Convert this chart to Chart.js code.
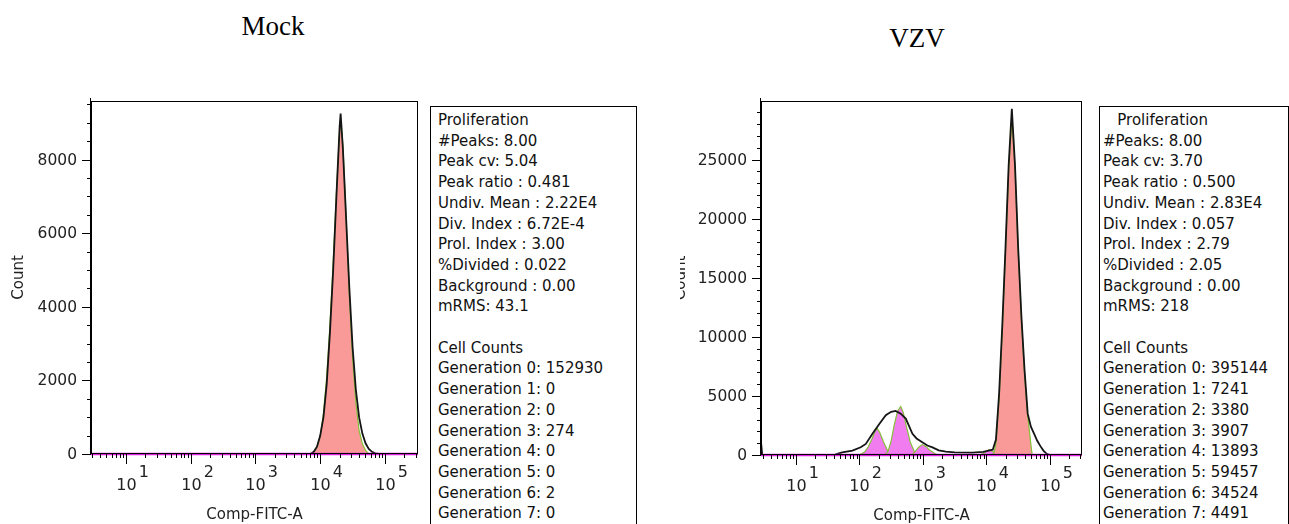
<!DOCTYPE html>
<html>
<head>
<meta charset="utf-8">
<script src="https://cdn.jsdelivr.net/npm/chart.js@4.4.1/dist/chart.umd.min.js"></script>
<style>
  body { margin: 0; background: #fff; width: 1289px; height: 524px; overflow: hidden; position: relative; }
  canvas { position: absolute; top: 0; }
  .title { position: absolute; font-family: "Liberation Serif", serif; font-size: 27px; line-height: 27px; color: #000; transform: translateX(-50%); white-space: nowrap; }
  .stats { position: absolute; top: 106px; height: 430px; border: 1px solid #000; background: #fff;
           font-family: "DejaVu Sans", sans-serif; font-size: 15px; line-height: 20.7px; color: #111;
           padding-top: 3px; white-space: pre; box-sizing: border-box; }
</style>
</head>
<body>
<div class="title" style="left:273px; top:13px;">Mock</div>
<div class="title" style="left:917px; top:25px;">VZV</div>
<canvas id="mock" width="430" height="524" style="left:0px"></canvas>
<canvas id="vzv" width="420" height="524" style="left:680px"></canvas>
<div class="stats" id="mockStats" style="left:430px; width:207px; padding-left:7px;"></div>
<div class="stats" id="vzvStats" style="left:1099px; width:190px; padding-left:3px;"></div>
<script>
// x values are log10(Comp-FITC-A), y values are event counts

// Mock: raw histogram (black)
const mockData = [
  [0.46, 0], [3.85, 0], [3.90, 60], [3.95, 200], [4.00, 500], [4.05, 1000], [4.10, 1900],
  [4.15, 3300], [4.20, 5000], [4.25, 7000], [4.30, 8900], [4.315, 9250], [4.35, 8300],
  [4.40, 6400], [4.45, 4500], [4.50, 2900], [4.55, 1750], [4.60, 1000], [4.65, 560],
  [4.70, 290], [4.75, 140], [4.80, 60], [4.85, 20], [4.90, 0], [5.51, 0]
];
// Mock: generation 0 model (red fill)
const mockGen0 = [
  [3.85, 0], [3.90, 50], [3.95, 180], [4.00, 480], [4.05, 1100], [4.10, 2100], [4.15, 3500],
  [4.20, 5200], [4.25, 7100], [4.30, 8800], [4.315, 9050], [4.35, 8400], [4.40, 6400],
  [4.45, 4300], [4.50, 2600], [4.55, 1400], [4.60, 650], [4.65, 280], [4.70, 100], [4.75, 0]
];

// VZV: raw histogram (black)
const vzvData = [
  [0.45, 1100], [0.47, 0], [1.60, 0], [1.65, 100], [1.73, 220], [1.89, 370], [2.02, 650],
  [2.10, 940], [2.205, 1790], [2.31, 2600], [2.415, 3360], [2.50, 3650], [2.57, 3730],
  [2.65, 3500], [2.73, 3080], [2.835, 1790], [2.90, 1400], [2.99, 1080], [3.07, 800],
  [3.15, 650], [3.25, 400], [3.36, 280], [3.50, 220], [3.78, 200], [3.95, 260], [4.05, 400],
  [4.10, 450], [4.15, 1300], [4.20, 5200], [4.25, 11000], [4.30, 17500], [4.35, 24500],
  [4.40, 29300], [4.45, 24500], [4.50, 17500], [4.55, 11800], [4.60, 7200], [4.65, 3500],
  [4.70, 2400], [4.75, 1800], [4.80, 1200], [4.85, 750], [4.90, 350], [4.95, 100], [5.00, 0],
  [5.505, 0]
];
// VZV: generation models
const vzvGen0 = [
  [4.08, 0], [4.12, 150], [4.15, 1000], [4.20, 4800], [4.25, 10500], [4.30, 17200],
  [4.35, 24000], [4.40, 28500], [4.45, 24300], [4.50, 17300], [4.55, 11500], [4.60, 6900],
  [4.65, 3300], [4.70, 900], [4.72, 0]
];
const vzvGen1 = [[3.90, 0], [3.97, 200], [4.04, 450], [4.10, 300], [4.16, 80], [4.20, 0]];
const vzvGen4 = [[2.82, 0], [2.88, 300], [2.94, 700], [2.99, 880], [3.05, 700], [3.12, 350], [3.20, 80], [3.26, 0]];
const vzvGen5 = [
  [2.40, 0], [2.45, 300], [2.50, 1200], [2.55, 2600], [2.60, 3700], [2.65, 4100],
  [2.69, 3600], [2.74, 2400], [2.80, 1100], [2.86, 350], [2.92, 60], [2.96, 0]
];
const vzvGen6 = [
  [2.00, 0], [2.08, 250], [2.14, 700], [2.20, 1400], [2.25, 2050], [2.28, 2250],
  [2.32, 1900], [2.38, 1100], [2.44, 400], [2.50, 80], [2.54, 0]
];

const mockStats = [
  'Proliferation', '#Peaks: 8.00', 'Peak cv: 5.04', 'Peak ratio : 0.481',
  'Undiv. Mean : 2.22E4', 'Div. Index : 6.72E-4', 'Prol. Index : 3.00',
  '%Divided : 0.022', 'Background : 0.00', 'mRMS: 43.1', '', 'Cell Counts',
  'Generation 0: 152930', 'Generation 1: 0', 'Generation 2: 0', 'Generation 3: 274',
  'Generation 4: 0', 'Generation 5: 0', 'Generation 6: 2', 'Generation 7: 0'
];
const vzvStats = [
  '   Proliferation', '#Peaks: 8.00', 'Peak cv: 3.70', 'Peak ratio : 0.500',
  'Undiv. Mean : 2.83E4', 'Div. Index : 0.057', 'Prol. Index : 2.79',
  '%Divided : 2.05', 'Background : 0.00', 'mRMS: 218', '', 'Cell Counts',
  'Generation 0: 395144', 'Generation 1: 7241', 'Generation 2: 3380', 'Generation 3: 3907',
  'Generation 4: 13893', 'Generation 5: 59457', 'Generation 6: 34524', 'Generation 7: 4491'
];

const xTitle = 'Comp-FITC-A';
const yTitle = 'Count';
const decades = [0, 1, 2, 3, 4, 5];

document.getElementById('mockStats').textContent = mockStats.join('\n');
document.getElementById('vzvStats').textContent = vzvStats.join('\n');

const pts = arr => arr.map(p => ({ x: p[0], y: p[1] }));

// frame, ticks and labels drawn against the chart's own scales
const flowAxes = {
  id: 'flowAxes',
  afterDatasetsDraw(chart, args, opts) {
    const { ctx, chartArea: a, scales: { x, y } } = chart;
    ctx.save();
    ctx.strokeStyle = '#000';
    ctx.lineWidth = 1;
    ctx.strokeRect(a.left + 0.5, a.top + 0.5, a.right - a.left - 1, a.bottom - a.top - 1);
    // y axis
    ctx.beginPath();
    ctx.moveTo(a.left - 0.5, a.top - 3);
    ctx.lineTo(a.left - 0.5, a.bottom + 1);
    ctx.stroke();
    ctx.fillStyle = '#222';
    ctx.font = '15.5px "DejaVu Sans"';
    ctx.textAlign = 'right';
    ctx.textBaseline = 'middle';
    for (let v = 0; v <= y.max; v += opts.minorStep) {
      const py = Math.round(y.getPixelForValue(v)) + 0.5;
      const major = v % opts.majorStep === 0;
      const len = major ? 9 : 4;
      ctx.beginPath();
      ctx.moveTo(a.left - len, py);
      ctx.lineTo(a.left, py);
      ctx.stroke();
      if (major) ctx.fillText(String(v), a.left - 14, py);
    }
    // x axis (log decades)
    ctx.textAlign = 'left';
    ctx.textBaseline = 'alphabetic';
    for (const k of decades) {
      for (let m = 1; m <= 9; m++) {
        const v = k + Math.log10(m);
        if (v < x.min || v > x.max) continue;
        const px = Math.round(x.getPixelForValue(v)) + 0.5;
        const len = m === 1 ? 10 : 4;
        ctx.beginPath();
        ctx.moveTo(px, a.bottom);
        ctx.lineTo(px, a.bottom + len);
        ctx.stroke();
        if (m === 1) {
          ctx.font = '16px "DejaVu Sans"';
          const w = ctx.measureText('10').width;
          ctx.fillText('10', px - w / 2, a.bottom + 36);
          ctx.fillText(String(k), px + w / 2 + 2, a.bottom + 23);
        }
      }
    }
    ctx.font = '15px "DejaVu Sans"';
    ctx.textAlign = 'center';
    ctx.fillText(xTitle, (a.left + a.right) / 2, a.bottom + 65);
    ctx.translate(opts.titleX, (a.top + a.bottom) / 2);
    ctx.rotate(-Math.PI / 2);
    ctx.textBaseline = 'middle';
    ctx.fillText(yTitle, 0, 0);
    ctx.restore();
  }
};

const RED = '#f99a98', MAGENTA = '#f07cf0', GREEN = '#86bf3a', BLACK = '#151515';

function makeChart(id, cfg) {
  // first dataset is drawn on top
  const datasets = [
    { data: pts([[cfg.xMin, 0], [cfg.xMax, 0]]), borderColor: '#e020e0', borderWidth: 2.5, fill: false },
    { data: pts(cfg.raw), borderColor: BLACK, borderWidth: 1.8, fill: false },
  ];
  cfg.models.forEach(m => datasets.push({
    data: pts(m.data), borderColor: GREEN, borderWidth: 1.2,
    backgroundColor: m.color, fill: 'origin'
  }));
  return new Chart(document.getElementById(id), {
    type: 'line',
    data: { datasets },
    options: {
      responsive: false, animation: false, devicePixelRatio: 1, events: [],
      layout: { padding: cfg.padding },
      elements: { point: { radius: 0 }, line: { tension: 0 } },
      datasets: { line: { clip: 3 } },
      scales: {
        x: { type: 'linear', min: cfg.xMin, max: cfg.xMax, display: false },
        y: { min: 0, max: cfg.yMax, display: false }
      },
      plugins: {
        legend: { display: false }, tooltip: { enabled: false },
        flowAxes: { minorStep: cfg.minorStep, majorStep: cfg.majorStep, titleX: cfg.titleX }
      }
    },
    plugins: [flowAxes]
  });
}

makeChart('mock', {
  raw: mockData,
  models: [{ data: mockGen0, color: RED }],
  xMin: 0.46, xMax: 5.51, yMax: 9590,
  minorStep: 500, majorStep: 2000, titleX: 19,
  padding: { left: 91, right: 12, top: 101, bottom: 70 }
});

makeChart('vzv', {
  raw: vzvData,
  models: [
    { data: vzvGen0, color: RED }, { data: vzvGen1, color: MAGENTA },
    { data: vzvGen4, color: MAGENTA }, { data: vzvGen5, color: MAGENTA },
    { data: vzvGen6, color: MAGENTA }
  ],
  xMin: 0.45, xMax: 5.505, yMax: 29950,
  minorStep: 1000, majorStep: 5000, titleX: 1,
  padding: { left: 81, right: 18, top: 101, bottom: 69 }
});
</script>
</body>
</html>
